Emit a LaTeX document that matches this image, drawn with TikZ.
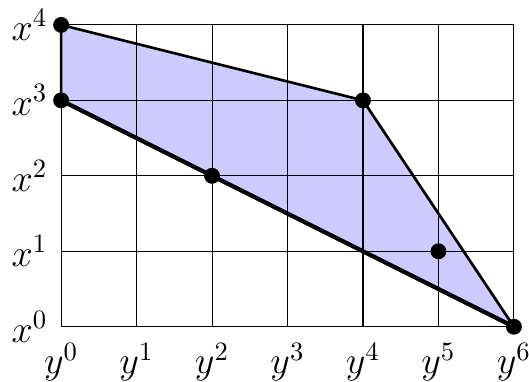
\documentclass[tikz,border=0pt]{standalone}
\begin{document}
\begin{tikzpicture}[
  dot/.style={circle,fill=black,inner sep=0pt,minimum size=6pt},
  lbl/.style={font=\Large}
]
\useasboundingbox (-0.81,-0.72) rectangle (6.2,4.33);
\fill[blue!20] (0,3) -- (0,4) -- (4,3) -- (6,0) -- cycle;
\draw[thin] (0,0) grid (6,4);
\coordinate (p0) at (0,3);
\coordinate (p1) at (0,4);
\coordinate (p2) at (4,3);
\coordinate (p3) at (6,0);
\draw[line width=1pt] (p0) -- (p1) -- (p2) -- (p3);
\draw[ultra thick] (p0) -- (p3);
\foreach \i in {0,...,4} \node[lbl] (x\i) at (-0.42,\i) {$x^{\i}$};
\foreach \i in {0,...,6} \node[lbl] (y\i) at (\i,-0.47) {$y^{\i}$};
\foreach \n/\p in {a/{(0,4)},b/{(0,3)},c/{(2,2)},d/{(4,3)},e/{(5,1)},f/{(6,0)}}
  \node[dot] (\n) at \p {};
\end{tikzpicture}
\end{document}
